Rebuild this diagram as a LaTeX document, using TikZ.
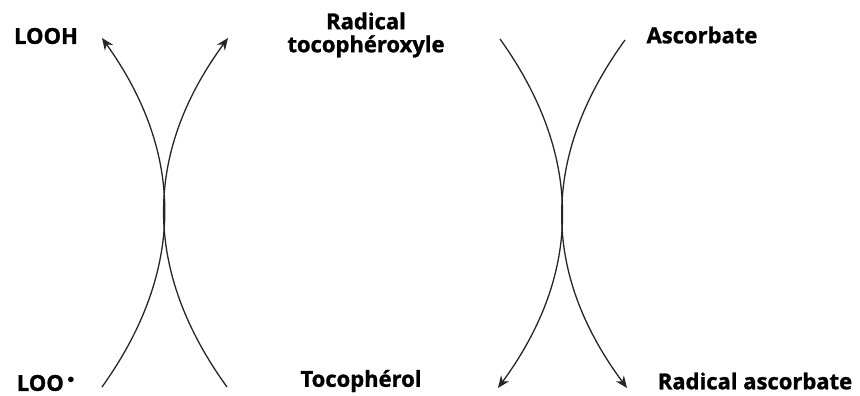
\documentclass[tikz,border=0pt]{standalone}
\usepackage{fontspec}
\setmainfont{Open Sans}[BoldFeatures={FakeBold=1.2}]
\usetikzlibrary{arrows.meta}
\begin{document}
\begin{tikzpicture}[x=1pt,y=-1pt,
  lbl/.style={font=\fontsize{22}{23}\selectfont\bfseries, inner sep=0pt, align=center},
  reac/.style={line width=1.3pt, draw=black!85, -{Stealth[length=12pt,width=10pt]}}]
\useasboundingbox (0,0) rectangle (860,396);
% labels
\node[lbl] (looh) at (46,36) {LOOH};
\node[lbl] (loo) at (46,383) {LOO\,$^{\bullet}$};
\node[lbl] (rtoco) at (366,35) {Radical\\tocophéroxyle};
\node[lbl] (toco) at (361,381) {Tocophérol};
\node[lbl] (asc) at (702,35) {Ascorbate};
\node[lbl] (rasc) at (755,381) {Radical ascorbate};
% curve end points
\coordinate (a1) at (102,387); \coordinate (a2) at (102,38);
\coordinate (b1) at (227,387); \coordinate (b2) at (228,38);
\coordinate (c1) at (500,39);  \coordinate (c2) at (498,388);
\coordinate (d1) at (625,40);  \coordinate (d2) at (627,388);
% reactions
\draw[reac] (a1) .. controls (185,271) and (185,154) .. (a2);
\draw[reac] (b1) .. controls (143,271) and (143,154) .. (b2);
\draw[reac] (c1) .. controls (583,155) and (583,272) .. (c2);
\draw[reac] (d1) .. controls (541,156) and (541,272) .. (d2);
\end{tikzpicture}
\end{document}
